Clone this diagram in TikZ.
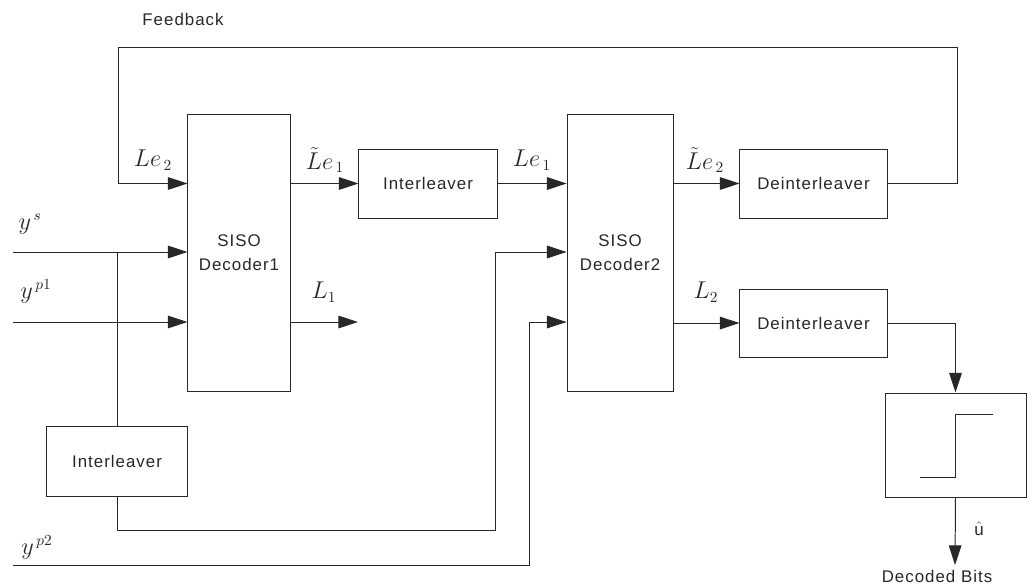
\documentclass[tikz,border=0pt]{standalone}
\usepackage{amsmath}
\usepackage{fontspec}
\setmainfont{Liberation Sans}[LetterSpace=6]
\usetikzlibrary{positioning,calc,arrows.meta}
\definecolor{inkgray}{RGB}{40,40,40}

\begin{document}
\begin{tikzpicture}[
  x=0.025cm, y=-0.025cm,
  box/.style={draw=inkgray, line width=0.7pt, fill=white, inner sep=0pt, align=center, text=inkgray, font=\fontsize{12}{17}\selectfont},
  lbl/.style={inner sep=0pt, text=inkgray, font=\fontsize{12}{14}\selectfont},
  sym/.style={inner sep=0pt, text=inkgray, font=\fontsize{16}{18}\selectfont},
  arr/.style={-{Triangle[length=14pt, width=9pt]}, line width=0.7pt, inkgray},
  wire/.style={line width=0.7pt, inkgray}
]
\useasboundingbox (0,0) rectangle (1032,586);

\node[box, minimum width=2.55cm, minimum height=6.9cm] (dec1) at (239,253) {SISO\\Decoder1};
\node[box, minimum width=2.65cm, minimum height=6.9cm, right=6.9cm of dec1] (dec2) {SISO\\Decoder2};
\node[box, minimum width=3.45cm, minimum height=1.725cm] (ilv1) at (428,183.5) {Interleaver};
\node[box, minimum width=3.5cm, minimum height=1.75cm] (ilv2) at (117,461) {Interleaver};
\node[box, minimum width=3.675cm, minimum height=1.725cm] (deint1) at (813.5,183.5) {Deinterleaver};
\node[box, minimum width=3.675cm, minimum height=1.7cm, below=1.75cm of deint1] (deint2) {Deinterleaver};
\node[box, minimum width=3.525cm, minimum height=2.6cm] (lim) at (955.5,445) {};

\coordinate (fbR) at (957,47);
\coordinate (fbL) at (118,47);
\coordinate (ys) at (13,252);
\coordinate (yp1) at (13,322);
\coordinate (yp2) at (13,565);
\coordinate (k1) at (495,530);
\coordinate (k2) at (529,565);
\coordinate (l1end) at (358,322);
\coordinate (bitsend) at (955,565);

\node[lbl] (fb) at (183,19) {Feedback};
\node[sym] (le2) at (153,160) {$Le_{\,2}$};
\node[sym] (tle1) at (325,160) {$\tilde{L}e_{\,1}$};
\node[sym] (le1) at (532,160) {$Le_{\,1}$};
\node[sym] (tle2) at (705,160) {$\tilde{L}e_{\,2}$};
\node[sym] (lone) at (324,292) {$L_1$};
\node[sym] (ltwo) at (706,292) {$L_2$};
\node[sym] (ysl) at (30,224) {$y^{\,s}$};
\node[sym] (yp1l) at (36,291) {$y^{\,p1}$};
\node[sym] (yp2l) at (37,547) {$y^{\,p2}$};
\node[lbl] (uhat) at (979,529) {$\hat{\mbox{u}}$};
\node[lbl, anchor=base] (bits) at (937,582) {Decoded Bits};

\draw[arr] (deint1.east) -| (fbR) -- (fbL) |- (dec1.west |- ilv1);
\draw[arr] (dec1.east |- ilv1) -- (ilv1.west);
\draw[arr] (ilv1.east) -- (dec2.west |- ilv1);
\draw[arr] (dec2.east |- ilv1) -- (deint1.west);
\draw[arr] (ys) -- (dec1.west |- ys);
\draw[wire] (ilv2.north) -- (ilv2.north |- ys);
\draw[arr] (yp1) -- (dec1.west |- yp1);
\draw[arr] (dec1.east |- yp1) -- (l1end);
\draw[arr] (ilv2.south) |- (k1) |- (dec2.west |- ys);
\draw[arr] (yp2) -- (k2) |- (dec2.west |- yp1);
\draw[arr] (dec2.east |- deint2) -- (deint2.west);
\draw[arr] (deint2.east) -| (lim.north);
\draw[arr] (lim.south) -- (bitsend);
\draw[wire] (920,477) -- (955,477) -- (955,414) -- (993,414);
\end{tikzpicture}
\end{document}
